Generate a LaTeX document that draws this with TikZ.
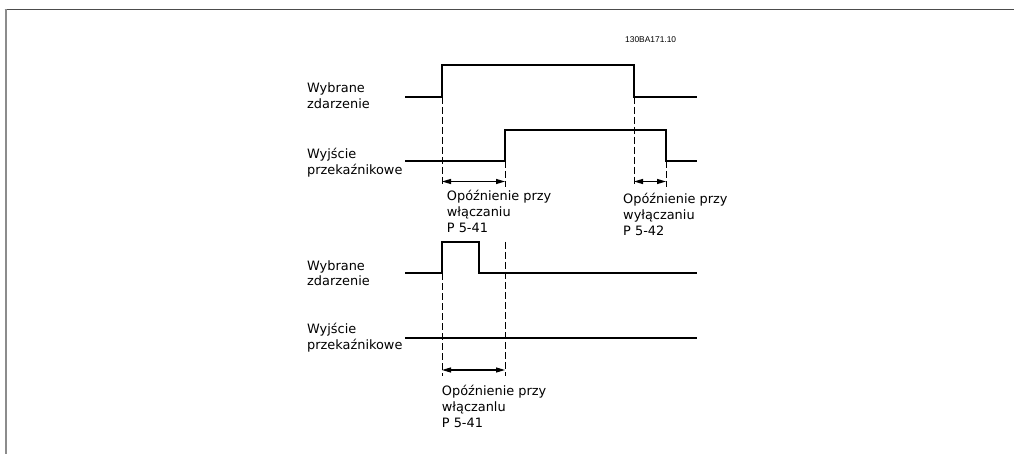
\documentclass[tikz,border=0pt]{standalone}
\usepackage{fontspec}
\setmainfont{DejaVu Sans}
\newfontfamily\idfont{Liberation Sans}
\usetikzlibrary{arrows.meta}
\begin{document}
\begin{tikzpicture}[x=1pt,y=-1pt,
  signal/.style={line width=1.2pt, black, line join=miter},
  guide/.style={line width=0.9pt, dash pattern=on 7pt off 3pt},
  span/.style={line width=1.1pt, {Triangle[length=9pt,width=5pt]}-{Triangle[length=9pt,width=5pt]}},
  lbl/.style={anchor=north west, inner sep=0pt, align=left, font=\fontsize{12.9}{15.8}\selectfont},
]
\useasboundingbox (0,0) rectangle (1014,454);
\fill[white] (0,0) rectangle (1014,454);
\draw[line width=1.8pt, color=black!70] (4.5,9.5) -- (1014,9.5);
\draw[line width=2pt, color=black!45] (5.5,9.5) -- (5.5,454);

\node[anchor=west, inner sep=0pt, font=\idfont\fontsize{8.4}{10}\selectfont] (id) at (625,40) {130BA171.10};

% waveforms
\draw[signal] (405,97) -- (442,97) -- (442,65) -- (634,65) -- (634,97) -- (697,97);
\draw[signal] (405,161) -- (505,161) -- (505,130) -- (666,130) -- (666,161) -- (697,161);
\draw[signal] (405,273) -- (442,273) -- (442,242) -- (479,242) -- (479,273) -- (697,273);
\draw[signal] (405,338) -- (697,338);

% guide lines
\draw[guide] (442,97) -- (442,187);
\draw[guide] (505,161) -- (505,187);
\draw[guide] (634,97) -- (634,187);
\draw[guide] (666,161) -- (666,187);
\draw[guide] (442,273) -- (442,376);
\draw[guide] (505,242) -- (505,376);

% delay spans
\coordinate (a1) at (442,181.5); \coordinate (b1) at (505,181.5);
\coordinate (a2) at (634,181.5); \coordinate (b2) at (666,181.5);
\coordinate (a3) at (442,370);   \coordinate (b3) at (505,370);
\draw[span] (a1) -- (b1);
\draw[span] (a2) -- (b2);
\draw[span] (a3) -- (b3);

% labels
\node[lbl] (l1) at (307,83) {Wybrane\\zdarzenie};
\node[lbl] (l2) at (307,148) {Wyjście\\przekaźnikowe};
\node[lbl] (l3) at (446.7,190) {Opóźnienie przy\\włączaniu\\P 5-41};
\node[lbl] (l4) at (623,193) {Opóźnienie przy\\wyłączaniu\\P 5-42};
\node[lbl] (l5) at (307,260) {Wybrane\\zdarzenie};
\node[lbl] (l6) at (307,323) {Wyjście\\przekaźnikowe};
\node[lbl] (l7) at (441.7,385) {Opóźnienie przy\\włączanlu\\P 5-41};
\end{tikzpicture}
\end{document}
